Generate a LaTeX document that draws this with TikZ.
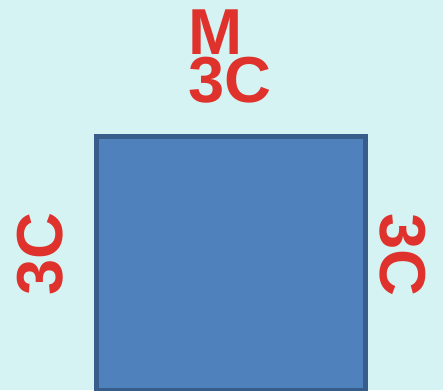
\documentclass[tikz,border=0pt]{standalone}
\usepackage{fontspec}
\setmainfont{Liberation Sans}
\usetikzlibrary{positioning}
\definecolor{PaleCyan}{RGB}{213,243,243}
\definecolor{SquareBlue}{RGB}{79,129,189}
\definecolor{EdgeBlue}{RGB}{56,93,138}
\definecolor{LabelRed}{RGB}{224,50,44}

\begin{document}
\begin{tikzpicture}[
    x=1pt, y=-1pt,
    side/.style={text=LabelRed, inner sep=0pt, anchor=base,
      font=\fontsize{65}{65}\selectfont\bfseries},
    sq/.style={draw=EdgeBlue, line width=5pt, fill=SquareBlue}
  ]
    \useasboundingbox (0,0) rectangle (443,390);
    \fill[PaleCyan] (0,0) rectangle (443,390);
    % the square
    \node[sq, minimum width=269pt, minimum height=254pt, anchor=north west,
      inner sep=0pt] (box) at (93.5,133.5) {};
    % labels
    \node[side] (mass) at (216,55) {M};
    \node[side] (top) at (230,103) {3C};
    \node[side, rotate=90] (left) at (62,254) {3C};
    \node[side, rotate=-90] (right) at (380,255) {3C};
  \end{tikzpicture}
\end{document}
